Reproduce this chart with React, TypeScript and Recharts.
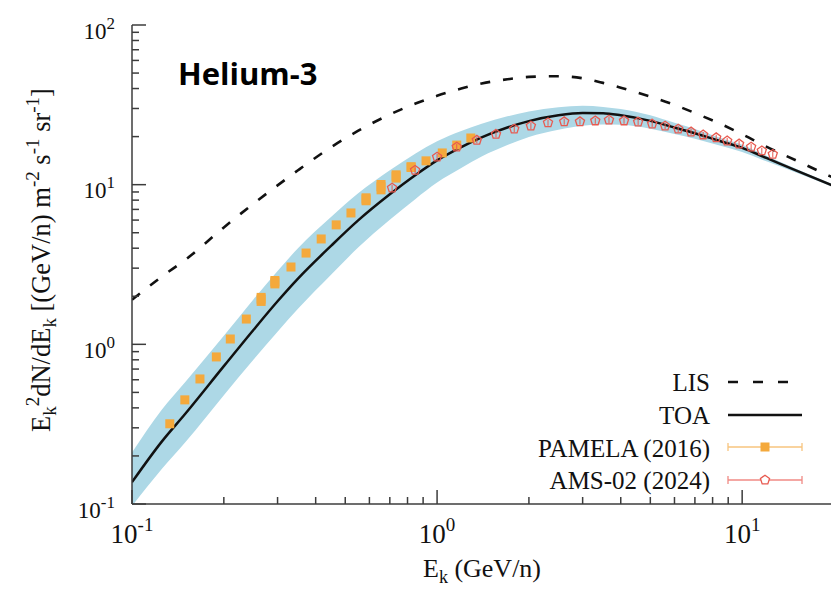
import { Area, ComposedChart, ErrorBar, Line, Scatter, XAxis, YAxis } from "recharts";

// model curves (E in GeV/n, E^2 dN/dE)
const energyGrid = [0.1, 0.125, 0.15, 0.2, 0.25, 0.3, 0.35, 0.45, 0.55, 0.7, 0.85, 1.0, 1.2, 1.4, 1.7, 2.0, 2.5, 3.0, 3.5, 4.0, 5.0, 6.0, 7.0, 8.5, 10, 12, 15, 20];
const lisFlux = [1.9, 2.65, 3.4, 5.4, 7.6, 9.9, 12.3, 17.2, 21.7, 27.5, 32.2, 36.0, 40.0, 43.0, 45.7, 47.3, 47.8, 46.4, 43.4, 40.5, 35.6, 31.6, 28.1, 24.0, 20.7, 17.3, 14.2, 11.0];
const toaFlux = [0.137, 0.245, 0.37, 0.73, 1.23, 1.86, 2.58, 4.15, 5.95, 8.7, 11.5, 14.2, 17.2, 19.8, 22.8, 25.0, 27.2, 28.1, 28.0, 27.2, 25.1, 22.8, 21.0, 18.7, 17.0, 14.7, 12.3, 9.8];
const bandLow = [0.097, 0.165, 0.245, 0.48, 0.8, 1.2, 1.67, 2.74, 4.02, 6.02, 8.14, 10.3, 12.7, 15.0, 17.7, 19.9, 22.1, 23.4, 23.8, 23.7, 22.4, 20.8, 19.4, 17.5, 16.0, 14.0, 11.9, 9.6];
const bandHigh = [0.21, 0.388, 0.586, 1.13, 1.91, 2.88, 4.0, 6.29, 8.8, 12.3, 15.7, 18.7, 21.7, 24.1, 26.8, 28.7, 30.5, 31.2, 30.7, 29.8, 27.2, 24.4, 22.3, 19.6, 17.8, 15.2, 12.6, 10.0];

// PAMELA (2016)
const pamelaE = [0.133, 0.149, 0.167, 0.189, 0.21, 0.237, 0.265, 0.294, 0.332, 0.372, 0.417, 0.467, 0.522, 0.585, 0.655, 0.734, 0.822, 0.92, 1.04, 1.16, 1.29];
const pamelaFlux = [0.318, 0.449, 0.607, 0.834, 1.08, 1.44, 1.92, 2.46, 3.05, 3.73, 4.57, 5.6, 6.65, 8.13, 9.7, 11.3, 12.9, 14.1, 15.8, 17.7, 19.6];
const pamelaErr = [0, 0, 0, 0, 0, 0, 0.18, 0.22, 0, 0, 0, 0, 0, 0.7, 1.0, 1.0, 0.9, 0, 0, 0, 0];

// AMS-02 (2024)
const amsE = [0.712, 0.847, 1.0, 1.16, 1.35, 1.56, 1.79, 2.03, 2.31, 2.61, 2.94, 3.3, 3.66, 4.1, 4.56, 5.07, 5.59, 6.17, 6.8, 7.45, 8.22, 8.93, 9.77, 10.7, 11.6, 12.6];
const amsFlux = [9.52, 12.3, 14.9, 17.2, 19.0, 20.7, 22.3, 23.3, 24.4, 24.8, 24.8, 25.1, 25.4, 25.1, 24.7, 24.0, 23.3, 22.3, 21.4, 20.5, 19.7, 18.8, 18.0, 17.2, 16.3, 15.5];

const xTicks = [0.1, 0.2, 0.3, 0.4, 0.5, 0.6, 0.7, 0.8, 0.9, 1, 2, 3, 4, 5, 6, 7, 8, 9, 10, 20];
const yTicks = [0.1, 0.2, 0.3, 0.4, 0.5, 0.6, 0.7, 0.8, 0.9, 1, 2, 3, 4, 5, 6, 7, 8, 9, 10, 20, 30, 40, 50, 60, 70, 80, 90, 100];

const curve = energyGrid.map((E, i) => ({ E, lis: lisFlux[i], toa: toaFlux[i], band: [bandLow[i], bandHigh[i]] }));
const pamela = pamelaE.map((E, i) => ({ E, v: pamelaFlux[i], err: pamelaErr[i] }));
const ams = amsE.map((E, i) => ({ E, v: amsFlux[i] }));

const SERIF = "'Liberation Serif', 'DejaVu Serif', serif";
const AXIS = "#3c3c3c";
const ORANGE = "#f4a93c";
const RED = "#e85a50";
const BAND = "#add8e6";

const exponent = (v: number) => Math.round(Math.log10(v));
const isMajor = (v: number) => Math.abs(Math.log10(v) - exponent(v)) < 1e-6;

function BottomTick({ x, y, payload }: any) {
  const v = payload.value;
  const major = isMajor(v);
  return (
    <g>
      <line x1={x} x2={x} y1={y} y2={y - (major ? 14 : 7)} stroke={AXIS} strokeWidth={1.5} />
      {major && (
        <text x={x} y={y + 39} textAnchor="middle" fontSize={27} fontFamily={SERIF} fill="#111">
          10<tspan fontSize={19} dy={-12}>{exponent(v)}</tspan>
        </text>
      )}
    </g>
  );
}

function TopTick({ x, y, payload }: any) {
  const major = isMajor(payload.value);
  return <line x1={x} x2={x} y1={y} y2={y + (major ? 14 : 7)} stroke={AXIS} strokeWidth={1.5} />;
}

function LeftTick({ x, y, payload }: any) {
  const v = payload.value;
  const major = isMajor(v);
  return (
    <g>
      <line x1={x} x2={x + (major ? 14 : 7)} y1={y} y2={y} stroke={AXIS} strokeWidth={1.5} />
      {major && (
        <text x={x - 17} y={y + 13.5} textAnchor="end" fontSize={23} fontFamily={SERIF} fill="#111">
          10<tspan fontSize={17} dy={-10}>{exponent(v)}</tspan>
        </text>
      )}
    </g>
  );
}

function RightTick({ x, y, payload }: any) {
  const major = isMajor(payload.value);
  return <line x1={x} x2={x - (major ? 14 : 7)} y1={y} y2={y} stroke={AXIS} strokeWidth={1.5} />;
}

function Square({ cx, cy }: any) {
  return <rect x={cx - 4.5} y={cy - 4.5} width={9} height={9} fill={ORANGE} />;
}

function pentagonPoints(cx: number, cy: number, r: number) {
  const pts = [];
  for (let k = 0; k < 5; k++) {
    const a = -Math.PI / 2 + (k * 2 * Math.PI) / 5;
    pts.push(`${cx + r * Math.cos(a)},${cy + r * Math.sin(a)}`);
  }
  return pts.join(" ");
}

function Pentagon({ cx, cy }: any) {
  return (
    <g>
      <polygon points={pentagonPoints(cx, cy, 4.8)} fill="none" stroke={RED} strokeWidth={1.3} />
      <line x1={cx} x2={cx} y1={cy - 3} y2={cy + 3} stroke={RED} strokeWidth={1} />
    </g>
  );
}

export default function App() {
  return (
    <div style={{ position: "fixed", left: 0, top: 0, width: 831, height: 589, overflow: "hidden", background: "#fff" }}>
      <ComposedChart width={840} height={589} data={curve} margin={{ top: 25, right: 6, bottom: 0, left: 0 }}>
        <XAxis
          dataKey="E"
          type="number"
          scale="log"
          domain={[0.1, 20]}
          allowDataOverflow
          ticks={xTicks}
          interval={0}
          height={85}
          tickSize={0}
          tickMargin={0}
          tick={BottomTick}
          axisLine={{ stroke: AXIS, strokeWidth: 1.5 }}
        />
        <XAxis
          xAxisId="top"
          orientation="top"
          dataKey="E"
          type="number"
          scale="log"
          domain={[0.1, 20]}
          allowDataOverflow
          ticks={xTicks}
          interval={0}
          height={0}
          tickSize={0}
          tickMargin={0}
          tick={TopTick}
          axisLine={{ stroke: AXIS, strokeWidth: 1.5 }}
        />
        <YAxis
          type="number"
          scale="log"
          domain={[0.1, 100]}
          allowDataOverflow
          ticks={yTicks}
          interval={0}
          width={132}
          tickSize={0}
          tickMargin={0}
          tick={LeftTick}
          axisLine={{ stroke: AXIS, strokeWidth: 1.5 }}
        />
        <YAxis
          yAxisId="right"
          orientation="right"
          type="number"
          scale="log"
          domain={[0.1, 100]}
          allowDataOverflow
          ticks={yTicks}
          interval={0}
          width={0}
          tickSize={0}
          tickMargin={0}
          tick={RightTick}
          axisLine={{ stroke: AXIS, strokeWidth: 1.5 }}
        />
        <Area dataKey="band" type="monotone" fill={BAND} fillOpacity={1} stroke="none" isAnimationActive={false} />
        <Line dataKey="lis" type="monotone" stroke="#111" strokeWidth={2.6} strokeDasharray="10 13" dot={false} isAnimationActive={false} />
        <Line dataKey="toa" type="monotone" stroke="#111" strokeWidth={2.5} dot={false} isAnimationActive={false} />
        <Scatter data={pamela} dataKey="v" shape={Square} isAnimationActive={false}>
          <ErrorBar dataKey="err" direction="y" width={0} strokeWidth={9} stroke={ORANGE} isAnimationActive={false} />
        </Scatter>
        <Scatter data={ams} dataKey="v" shape={Pentagon} isAnimationActive={false} />
      </ComposedChart>

      <svg width={831} height={589} style={{ position: "absolute", left: 0, top: 0, pointerEvents: "none" }}>
        <text x={178} y={85} fontFamily="'Open Sans', 'Liberation Sans', sans-serif" fontWeight={700} fontSize={31} fill="#000">
          Helium-3
        </text>

        {/* y title */}
        <text transform="rotate(-90)" x={-260} y={50} textAnchor="middle" fontSize={26.5} fontFamily={SERIF} fill="#111">
          E<tspan dy={6} fontSize={19}>k</tspan>
          <tspan dy={-17} fontSize={19}>2</tspan>
          <tspan dy={11}>dN/dE</tspan>
          <tspan dy={6} fontSize={19}>k</tspan>
          <tspan dy={-6}>{" [(GeV/n) m"}</tspan>
          <tspan dy={-11} fontSize={19}>-2</tspan>
          <tspan dy={11}>{" s"}</tspan>
          <tspan dy={-11} fontSize={19}>-1</tspan>
          <tspan dy={11}>{" sr"}</tspan>
          <tspan dy={-11} fontSize={19}>-1</tspan>
          <tspan dy={11}>]</tspan>
        </text>

        {/* x title */}
        <text x={482} y={577} textAnchor="middle" fontSize={26} fontFamily={SERIF} fill="#111">
          E<tspan dy={6} fontSize={18}>k</tspan>
          <tspan dy={-6}>{" (GeV/n)"}</tspan>
        </text>

        {/* legend */}
        <g fontFamily={SERIF} fontSize={25} fill="#111" textAnchor="end">
          <text x={710} y={391}>LIS</text>
          <text x={710} y={424}>TOA</text>
          <text x={710} y={457}>PAMELA (2016)</text>
          <text x={710} y={489}>AMS-02 (2024)</text>
        </g>
        <line x1={728} x2={790} y1={382} y2={382} stroke="#111" strokeWidth={2.6} strokeDasharray="10 15" />
        <line x1={728} x2={802} y1={415} y2={415} stroke="#111" strokeWidth={2.5} />
        <g stroke="#f7c47e" strokeWidth={1.3}>
          <line x1={728} x2={802} y1={447} y2={447} />
          <line x1={728} x2={728} y1={443} y2={451} />
          <line x1={802} x2={802} y1={443} y2={451} />
        </g>
        <rect x={760.5} y={442.5} width={9} height={9} fill={ORANGE} />
        <g stroke="#f08a84" strokeWidth={1.3}>
          <line x1={728} x2={802} y1={480} y2={480} />
          <line x1={728} x2={728} y1={476} y2={484} />
          <line x1={802} x2={802} y1={476} y2={484} />
        </g>
        <polygon points={pentagonPoints(765, 480, 4.8)} fill="#fff" stroke={RED} strokeWidth={1.3} />
      </svg>
    </div>
  );
}
